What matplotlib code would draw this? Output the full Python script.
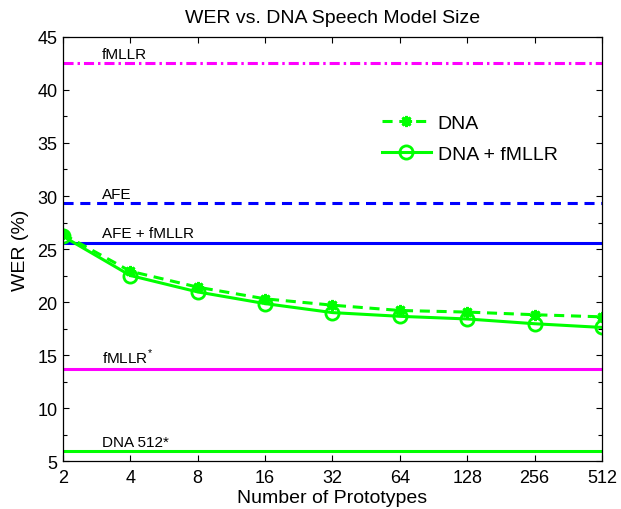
import matplotlib
matplotlib.use('Agg')
import matplotlib.pyplot as plt
from matplotlib.ticker import MultipleLocator, FixedLocator, NullFormatter

plt.rcParams['font.family'] = ['Liberation Sans', 'DejaVu Sans']
plt.rcParams['mathtext.fontset'] = 'custom'
plt.rcParams['mathtext.rm'] = 'Liberation Sans'

# prototypes (log2 axis)
protos = [2, 4, 8, 16, 32, 64, 128, 256, 512]
tick_labels = ['2', '4', '8', '16', '32', '64', '128', '256', '512']
wer_dna = [26.4, 22.9, 21.4, 20.3, 19.7, 19.2, 19.05, 18.8, 18.6]
wer_dna_fmllr = [26.2, 22.5, 20.95, 19.85, 19.0, 18.65, 18.4, 17.95, 17.6]

# baselines
base_names = ['fMLLR', 'AFE', 'AFE + fMLLR', r'fMLLR$^{*}$', 'DNA 512*']
base_vals = [42.5, 29.3, 25.6, 13.7, 5.9]
base_colors = ['#ff00ff', '#0000ff', '#0000ff', '#ff00ff', '#00ff00']
dash = (0, (3.3, 2.2))
dashdot = (0, (3.3, 1.3, 0.8, 1.3))
base_styles = [dashdot, dash, '-', '-', '-']

green = '#00ff00'

fig = plt.figure(figsize=(6.21, 5.10), dpi=100)
ax = fig.add_axes([0.1014, 0.0941, 0.868, 0.8314])

for name, v, c, ls in zip(base_names, base_vals, base_colors, base_styles):
    ax.axhline(v, color=c, ls=ls, lw=2.2)
    ax.text(2.98, v + 0.5, name, fontsize=11, ha='left', va='baseline')

ax.plot(protos, wer_dna, ls=dash, color=green, lw=2.2, marker=(8, 2, 0),
        ms=8, mew=2, label='DNA')
ax.plot(protos, wer_dna_fmllr, ls='-', color=green, lw=2.2, marker='o',
        ms=9.5, mfc='none', mew=2, label='DNA + fMLLR')

ax.set_xscale('log', base=2)
ax.set_xlim(2, 512)
ax.set_ylim(5, 45)
ax.xaxis.set_major_locator(FixedLocator(protos))
ax.set_xticklabels(tick_labels)
ax.xaxis.set_minor_formatter(NullFormatter())
ax.xaxis.set_minor_locator(FixedLocator([]))
ax.yaxis.set_major_locator(MultipleLocator(5))
ax.yaxis.set_minor_locator(MultipleLocator(2.5))
ax.tick_params(which='both', direction='in', top=True, right=True,
               labelsize=13, width=0.8)
ax.tick_params(which='major', length=4.5)
ax.tick_params(axis='x', pad=6)
ax.tick_params(axis='y', pad=4)
ax.tick_params(which='minor', length=3)
for s in ax.spines.values():
    s.set_linewidth(0.9)

ax.set_title('WER vs. DNA Speech Model Size', fontsize=14, pad=11)
ax.set_xlabel('Number of Prototypes', fontsize=14, labelpad=2)
ax.set_ylabel('WER (%)', fontsize=14, labelpad=6)

ax.legend(loc='upper left', bbox_to_anchor=(0.592, 0.818), frameon=False,
          fontsize=14, handlelength=2.5, handletextpad=0.36, labelspacing=0.7,
          borderpad=0, borderaxespad=0)

fig.savefig('out.png', dpi=100)
